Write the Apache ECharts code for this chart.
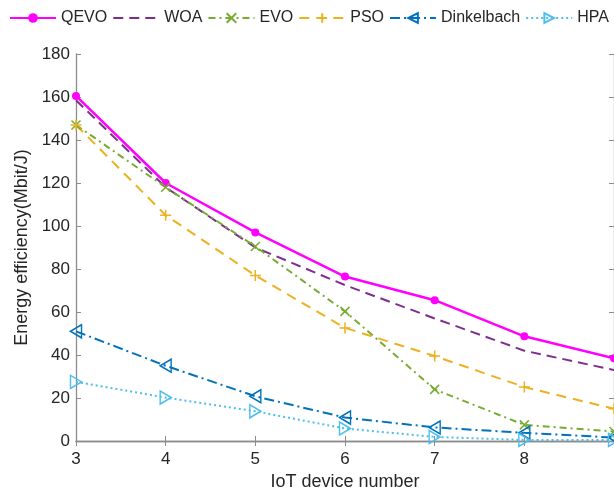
<!DOCTYPE html>
<html>
<head>
<meta charset="utf-8">
<script src="https://cdn.jsdelivr.net/npm/echarts@6/dist/echarts.min.js"></script>
<style>
  html, body { margin: 0; padding: 0; background: #fff; }
  #chart { width: 614px; height: 496px; }
</style>
</head>
<body>
<div id="chart"></div>
<script>
// IoT device counts on the x axis
const deviceNumbers = [3, 4, 5, 6, 7, 8, 9];

// Energy efficiency (Mbit/J) per algorithm
const qevo       = [160.5, 120, 97, 76.5, 65.5, 48.7, 38.5];
const woa        = [158.5, 118, 90, 72.5, 57, 42, 33];
const evo        = [147, 118, 90.5, 60.3, 24, 7.5, 4.4];
const pso        = [147, 105, 77, 52.6, 39.5, 25.1, 15];
const dinkelbach = [51, 35, 20.8, 10.9, 6.3, 3.8, 1.6];
const hpa        = [27.5, 20.2, 13.8, 5.8, 1.9, 0.5, 0.5];

const seriesNames = ['QEVO', 'WOA', 'EVO', 'PSO', 'Dinkelbach', 'HPA'];

const pairs = vals => deviceNumbers.map((x, i) => [x, vals[i]]);

const FONT = '"Liberation Sans", Arial, sans-serif';
const AXIS_COLOR = '#8c8c8c';
const TEXT_COLOR = '#262626';

const crossSym = 'path://M0,0L10,10M10,0L0,10';
const plusSym = 'path://M5,0L5,10M0,5L10,5';
const leftTri = 'path://M10,0L0,5L10,10Z';
const rightTri = 'path://M0,0L10,5L0,10Z';

function makeSeries(name, vals, color, opts) {
  return Object.assign({
    name: name,
    type: 'line',
    data: pairs(vals),
    showSymbol: true,
    symbol: 'none',
    animation: false,
    lineStyle: { color: color, width: 2 },
    itemStyle: { color: color }
  }, opts);
}

const series = [
  makeSeries('QEVO', qevo, '#ff00ff', {
    symbol: 'circle', symbolSize: 8,
    lineStyle: { color: '#ff00ff', width: 2.5 }
  }),
  makeSeries('WOA', woa, '#7e2f8e', {
    symbol: 'none',
    lineStyle: { color: '#7e2f8e', width: 2, type: [10, 6] }
  }),
  makeSeries('EVO', evo, '#77ac30', {
    symbol: crossSym, symbolSize: 9,
    itemStyle: { color: 'rgba(0,0,0,0)', borderColor: '#77ac30', borderWidth: 1.5 },
    lineStyle: { color: '#77ac30', width: 2, type: [7, 4, 2, 4] }
  }),
  makeSeries('PSO', pso, '#edb120', {
    symbol: plusSym, symbolSize: 11,
    itemStyle: { color: 'rgba(0,0,0,0)', borderColor: '#edb120', borderWidth: 1.5 },
    lineStyle: { color: '#edb120', width: 2, type: [10, 7] }
  }),
  makeSeries('Dinkelbach', dinkelbach, '#0072bd', {
    symbol: leftTri, symbolSize: [11, 13],
    itemStyle: { color: 'rgba(0,0,0,0)', borderColor: '#0072bd', borderWidth: 1.5 },
    lineStyle: { color: '#0072bd', width: 2, type: [10, 4, 2, 4] }
  }),
  makeSeries('HPA', hpa, '#4dbeee', {
    symbol: rightTri, symbolSize: [11, 13],
    itemStyle: { color: 'rgba(0,0,0,0)', borderColor: '#4dbeee', borderWidth: 1.5 },
    lineStyle: { color: '#4dbeee', width: 2, type: [2, 3] }
  })
];

// WOA is drawn without point markers, so its legend icon is a bare dashed line
const legendData = seriesNames.map(n =>
  n === 'WOA' ? { name: n, itemStyle: { opacity: 0 } } : { name: n }
);

const chart = echarts.init(document.getElementById('chart'), null, { renderer: 'canvas' });

chart.setOption({
  backgroundColor: '#ffffff',
  animation: false,
  textStyle: { fontFamily: FONT },
  legend: {
    data: legendData,
    left: 9,
    top: 10,
    width: 610,
    itemWidth: 46,
    itemHeight: 12,
    itemGap: 5,
    padding: 0,
    textStyle: { fontFamily: FONT, fontSize: 16, color: TEXT_COLOR }
  },
  grid: { left: 76, right: -3, top: 54, bottom: 52.5, containLabel: false },
  xAxis: [{
    type: 'value',
    min: 3, max: 9, interval: 1,
    name: 'IoT device number',
    nameLocation: 'middle',
    nameGap: 32,
    nameTextStyle: { fontFamily: FONT, fontSize: 18, color: TEXT_COLOR },
    axisLine: { lineStyle: { color: AXIS_COLOR, width: 1.3 } },
    axisTick: { inside: true, length: 5, lineStyle: { color: AXIS_COLOR } },
    axisLabel: { fontFamily: FONT, fontSize: 17, color: TEXT_COLOR, margin: 10, showMaxLabel: false },
    splitLine: { show: false }
  }, {
    type: 'value',
    position: 'top',
    min: 3, max: 9, interval: 1,
    axisLine: { show: true, lineStyle: { color: AXIS_COLOR, width: 1.3 } },
    axisTick: { inside: true, length: 5, lineStyle: { color: AXIS_COLOR } },
    axisLabel: { show: false },
    splitLine: { show: false }
  }],
  yAxis: [{
    type: 'value',
    min: 0, max: 180, interval: 20,
    name: 'Energy efficiency(Mbit/J)',
    nameLocation: 'middle',
    nameGap: 42,
    nameTextStyle: { fontFamily: FONT, fontSize: 18, color: TEXT_COLOR },
    axisLine: { show: true, lineStyle: { color: AXIS_COLOR, width: 1.3 } },
    axisTick: { show: true, inside: true, length: 5, lineStyle: { color: AXIS_COLOR } },
    axisLabel: { fontFamily: FONT, fontSize: 17, color: TEXT_COLOR, margin: 6 },
    splitLine: { show: false }
  }, {
    type: 'value',
    position: 'right',
    min: 0, max: 180, interval: 20,
    axisLine: { show: true, lineStyle: { color: AXIS_COLOR, width: 1.3 } },
    axisTick: { show: true, inside: true, length: 5, lineStyle: { color: AXIS_COLOR } },
    axisLabel: { show: false },
    splitLine: { show: false }
  }],
  series: series
});
</script>
</body>
</html>
